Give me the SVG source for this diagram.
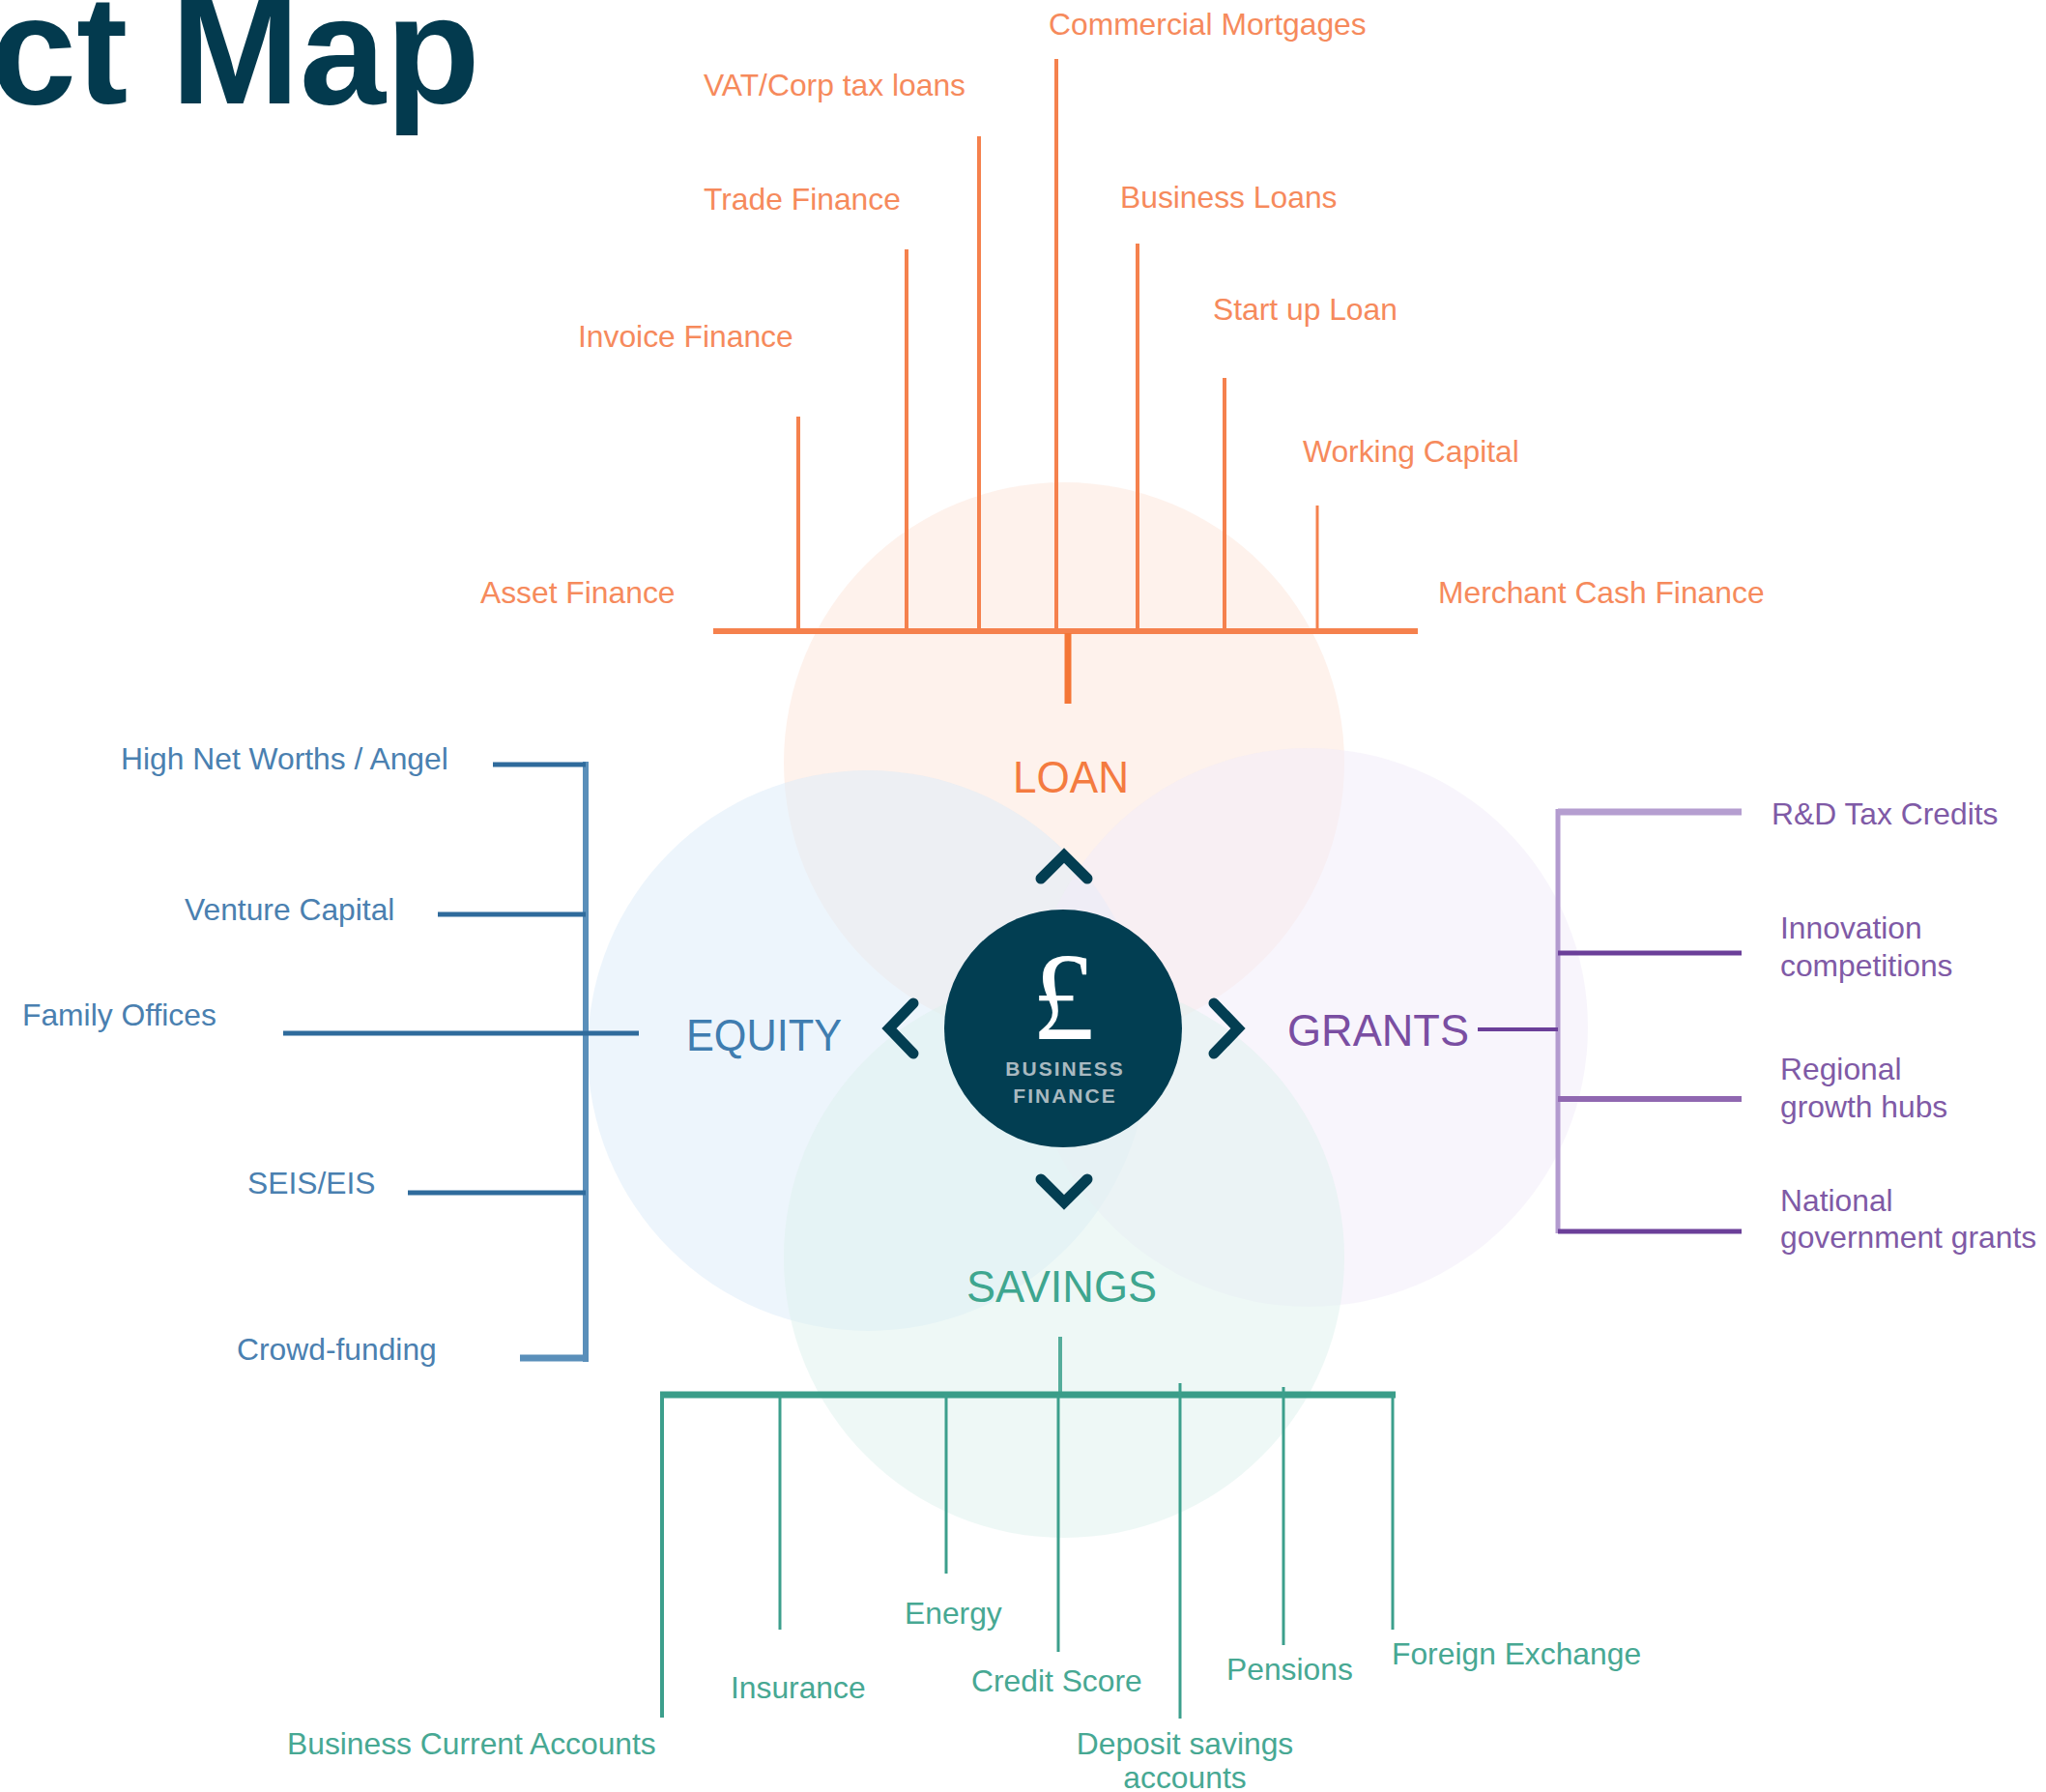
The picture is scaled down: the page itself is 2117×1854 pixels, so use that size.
<svg xmlns="http://www.w3.org/2000/svg" width="2117" height="1854" viewBox="0 0 2117 1854">
<style>
text{font-family:"Liberation Sans",Arial,sans-serif}
.lbl{font-size:31.8px}
.loanT{fill:#f68a5c}
.eqT{fill:#4a80b0}
.grT{fill:#7f5aa6}
.svT{fill:#47a893}
.cat{font-size:47px}
.ln{fill:none;stroke-linecap:butt}
.loanL{stroke:#f5814d}
.eqL{stroke:#2f6b9c}
.grL{stroke:#8f69b2}
.svL{stroke:#3c9f8c}
.chev{fill:none;stroke:#033e52;stroke-width:11;stroke-linecap:round;stroke-linejoin:miter}
</style>
<rect width="2117" height="1854" fill="#ffffff"/>
<g id="venn">
<circle cx="1101" cy="789" r="290" fill="#fde6da" fill-opacity="0.5"/>
<circle cx="898" cy="1087" r="290" fill="#dcebf9" fill-opacity="0.5"/>
<circle cx="1354" cy="1063" r="289" fill="#f2ecfa" fill-opacity="0.5"/>
<circle cx="1101" cy="1301" r="290" fill="#def1ed" fill-opacity="0.5"/>
</g>
<g id="title">
<text x="-10" y="107" font-size="160" font-weight="bold" fill="#033a4e">ct Map</text>
</g>
<g id="connectors">
<g class="ln loanL">
<line x1="738" y1="653" x2="1467" y2="653" stroke-width="6"/>
<line x1="1105" y1="655" x2="1105" y2="728" stroke-width="7" stroke="#f47636"/>
<line x1="826" y1="431" x2="826" y2="653" stroke-width="4"/>
<line x1="938" y1="258" x2="938" y2="653" stroke-width="4"/>
<line x1="1013" y1="141" x2="1013" y2="653" stroke-width="4"/>
<line x1="1093" y1="61" x2="1093" y2="653" stroke-width="4"/>
<line x1="1177" y1="252" x2="1177" y2="653" stroke-width="4"/>
<line x1="1267" y1="391" x2="1267" y2="653" stroke-width="4"/>
<line x1="1363" y1="523" x2="1363" y2="653" stroke-width="3"/>
</g>
<g class="ln eqL">
<line x1="606" y1="788" x2="606" y2="1409" stroke-width="6" stroke="#5a8fba"/>
<line x1="510" y1="791" x2="606" y2="791" stroke-width="5"/>
<line x1="453" y1="946" x2="606" y2="946" stroke-width="5"/>
<line x1="293" y1="1069" x2="661" y2="1069" stroke-width="5"/>
<line x1="422" y1="1234" x2="606" y2="1234" stroke-width="5"/>
<line x1="538" y1="1405" x2="606" y2="1405" stroke-width="7" stroke="#5a8fba"/>
</g>
<g class="ln grL">
<line x1="1612" y1="837" x2="1612" y2="1276" stroke-width="5" stroke="#b39bcf"/>
<line x1="1529" y1="1065" x2="1612" y2="1065" stroke-width="4" stroke="#6b3f99"/>
<line x1="1612" y1="840" x2="1802" y2="840" stroke-width="7" stroke="#b59ed0"/>
<line x1="1612" y1="986" x2="1802" y2="986" stroke-width="5" stroke="#6b3f99"/>
<line x1="1612" y1="1137" x2="1802" y2="1137" stroke-width="6" stroke="#9068b1"/>
<line x1="1612" y1="1274" x2="1802" y2="1274" stroke-width="5" stroke="#6b3f99"/>
</g>
<g class="ln svL">
<line x1="1097" y1="1383" x2="1097" y2="1443" stroke-width="4" stroke="#55ad9b"/>
<line x1="683" y1="1443" x2="1444" y2="1443" stroke-width="7" stroke="#3a9d89"/>
<line x1="685" y1="1443" x2="685" y2="1777" stroke-width="4"/>
<line x1="807" y1="1443" x2="807" y2="1686" stroke-width="3"/>
<line x1="979" y1="1443" x2="979" y2="1628" stroke-width="3"/>
<line x1="1095" y1="1443" x2="1095" y2="1709" stroke-width="3"/>
<line x1="1221" y1="1431" x2="1221" y2="1778" stroke-width="3"/>
<line x1="1328" y1="1435" x2="1328" y2="1702" stroke-width="3"/>
<line x1="1441" y1="1443" x2="1441" y2="1686" stroke-width="3"/>
</g>
</g>
<g id="hub">
<circle cx="1100" cy="1064" r="123" fill="#023e52"/>
<text x="1100" y="1075" font-size="130" fill="#ffffff" text-anchor="middle" style="font-family:'Liberation Serif',serif">£</text>
<text x="1102" y="1113" font-size="21" font-weight="bold" letter-spacing="2" fill="#a9b9c0" text-anchor="middle">BUSINESS</text>
<text x="1102" y="1141" font-size="21" font-weight="bold" letter-spacing="2" fill="#a9b9c0" text-anchor="middle">FINANCE</text>
<polyline class="chev" points="1077,909 1101,885 1125,909"/>
<polyline class="chev" points="1077,1220 1101,1244 1125,1220"/>
<polyline class="chev" points="945,1038 920,1064 945,1090"/>
<polyline class="chev" points="1256,1038 1281,1064 1256,1090"/>
</g>
<g id="cat-loan"><text class="cat" x="1048" y="820" fill="#f47b40" textLength="120" lengthAdjust="spacingAndGlyphs">LOAN</text></g>
<g id="cat-equity"><text class="cat" x="710" y="1087" fill="#3f7db0" textLength="161" lengthAdjust="spacingAndGlyphs">EQUITY</text></g>
<g id="cat-grants"><text class="cat" x="1332" y="1082" fill="#7a4ea2" textLength="188" lengthAdjust="spacingAndGlyphs">GRANTS</text></g>
<g id="cat-savings"><text class="cat" x="1000" y="1347" fill="#3ea68f" textLength="197" lengthAdjust="spacingAndGlyphs">SAVINGS</text></g>
<g id="loan-items">
<g id="n-commercial"><text class="lbl loanT" x="1085" y="36">Commercial Mortgages</text></g>
<g id="n-vat"><text class="lbl loanT" x="728" y="99">VAT/Corp tax loans</text></g>
<g id="n-trade"><text class="lbl loanT" x="728" y="217">Trade Finance</text></g>
<g id="n-invoice"><text class="lbl loanT" x="598" y="359">Invoice Finance</text></g>
<g id="n-asset"><text class="lbl loanT" x="497" y="624">Asset Finance</text></g>
<g id="n-bizloans"><text class="lbl loanT" x="1159" y="215">Business Loans</text></g>
<g id="n-startup"><text class="lbl loanT" x="1255" y="331">Start up Loan</text></g>
<g id="n-working"><text class="lbl loanT" x="1348" y="478">Working Capital</text></g>
<g id="n-merchant"><text class="lbl loanT" x="1488" y="624">Merchant Cash Finance</text></g>
</g>
<g id="equity-items">
<g id="n-hnw"><text class="lbl eqT" x="125" y="796">High Net Worths / Angel</text></g>
<g id="n-vc"><text class="lbl eqT" x="191" y="952">Venture Capital</text></g>
<g id="n-family"><text class="lbl eqT" x="23" y="1061">Family Offices</text></g>
<g id="n-seis"><text class="lbl eqT" x="256" y="1235">SEIS/EIS</text></g>
<g id="n-crowd"><text class="lbl eqT" x="245" y="1407">Crowd-funding</text></g>
</g>
<g id="grant-items">
<g id="n-rd"><text class="lbl grT" x="1833" y="853">R&amp;D Tax Credits</text></g>
<g id="n-innov"><text class="lbl grT" x="1842" y="971">Innovation</text><text class="lbl grT" x="1842" y="1010">competitions</text></g>
<g id="n-regional"><text class="lbl grT" x="1842" y="1117">Regional</text><text class="lbl grT" x="1842" y="1156">growth hubs</text></g>
<g id="n-national"><text class="lbl grT" x="1842" y="1253">National</text><text class="lbl grT" x="1842" y="1291">government grants</text></g>
</g>
<g id="savings-items">
<g id="n-bca"><text class="lbl svT" x="297" y="1815">Business Current Accounts</text></g>
<g id="n-insurance"><text class="lbl svT" x="756" y="1757">Insurance</text></g>
<g id="n-energy"><text class="lbl svT" x="936" y="1680">Energy</text></g>
<g id="n-credit"><text class="lbl svT" x="1005" y="1750">Credit Score</text></g>
<g id="n-deposit"><text class="lbl svT" x="1226" y="1815" text-anchor="middle">Deposit savings</text><text class="lbl svT" x="1226" y="1850" text-anchor="middle">accounts</text></g>
<g id="n-pensions"><text class="lbl svT" x="1269" y="1738">Pensions</text></g>
<g id="n-fx"><text class="lbl svT" x="1440" y="1722">Foreign Exchange</text></g>
</g>
</svg>
